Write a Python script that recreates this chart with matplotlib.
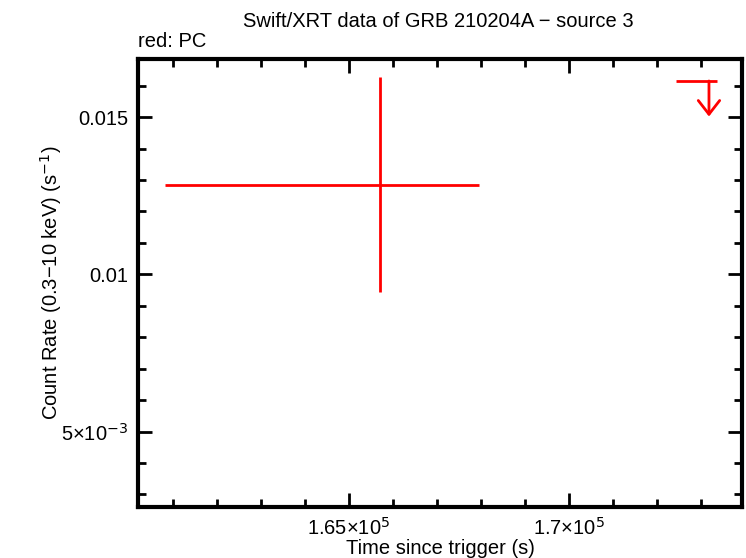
import matplotlib.pyplot as plt
from matplotlib.ticker import FixedLocator, MultipleLocator

plt.rcParams['font.family'] = ['Liberation Sans', 'DejaVu Sans']

# detection (PC mode)
t = [165705]
t_lo = [160818]
t_hi = [167955]
rate = [0.012838]
rate_lo = [0.009436]
rate_hi = [0.016272]

# upper limit (PC mode)
ul_t = [173182]
ul_t_lo = [172432]
ul_t_hi = [173364]
ul_rate = [0.01615]

xticks = [165000, 170000]
xlabels = ['1.65×10$^{5}$', '1.7×10$^{5}$']
yticks = [0.005, 0.01, 0.015]
ylabels = ['5×10$^{−3}$', '0.01', '0.015']

fs = 14.5

fig = plt.figure(figsize=(7.46, 5.58), dpi=100)
ax = fig.add_axes([0.185, 0.0914, 0.8096, 0.8026])

xerr = [[a - b for a, b in zip(t, t_lo)], [b - a for a, b in zip(t, t_hi)]]
yerr = [[a - b for a, b in zip(rate, rate_lo)], [b - a for a, b in zip(rate, rate_hi)]]
ax.errorbar(t, rate, xerr=xerr, yerr=yerr, fmt='none', ecolor='red', elinewidth=2, capsize=0)

ax.hlines(ul_rate, ul_t_lo, ul_t_hi, color='red', lw=2)
for x, y in zip(ul_t, ul_rate):
    ax.annotate('', xy=(x, y * 0.93), xytext=(x, y),
                arrowprops=dict(arrowstyle='->,head_length=0.45,head_width=0.35', color='red', lw=2,
                                mutation_scale=22, shrinkA=0, shrinkB=0))

ax.set_xlim(160205, 173932)
ax.set_ylim(0.0026, 0.016844)
ax.xaxis.set_major_locator(FixedLocator(xticks))
ax.set_xticklabels(xlabels)
ax.xaxis.set_minor_locator(MultipleLocator(1000))
ax.yaxis.set_major_locator(FixedLocator(yticks))
ax.set_yticklabels(ylabels)
ax.yaxis.set_minor_locator(MultipleLocator(0.001))

ax.tick_params(which='both', direction='in', top=True, right=True, width=2, labelsize=fs, pad=7)
ax.tick_params(which='major', length=10)
ax.tick_params(which='minor', length=6)
for s in ax.spines.values():
    s.set_linewidth(3)

ax.set_xlabel('Time since trigger (s)', fontsize=fs, labelpad=0)
ax.set_ylabel('Count Rate (0.3−10 keV) (s$^{−1}$)', fontsize=fs, labelpad=-2)
fig.text(0.587, 0.962, 'Swift/XRT data of GRB 210204A − source 3', ha='center', va='center', fontsize=fs)
fig.text(0.185, 0.925, 'red: PC', ha='left', va='center', fontsize=fs)

fig.savefig('out.png', dpi=100)
